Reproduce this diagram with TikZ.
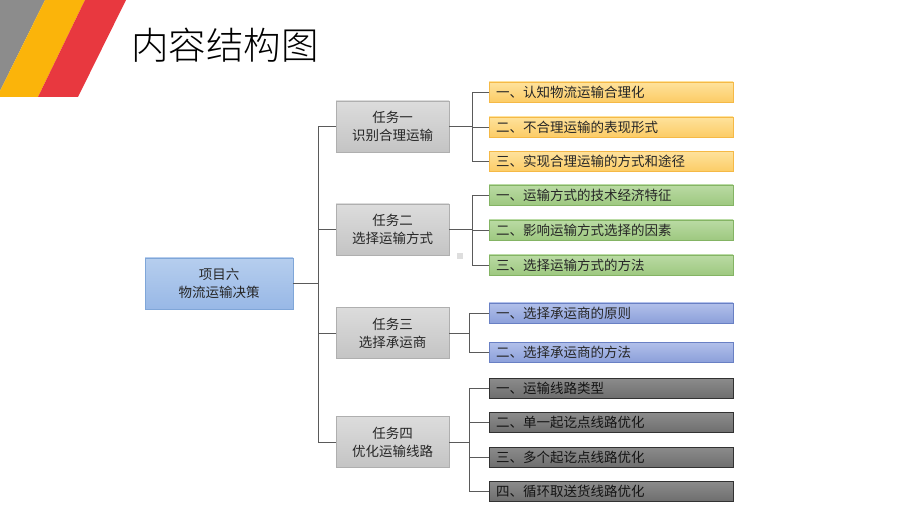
\documentclass[tikz,border=0pt]{standalone}
\usepackage{fontspec}
\setmainfont{Noto Sans CJK SC}
\newfontfamily\titlefont{Noto Sans CJK SC Light}
\definecolor{stripgray}{HTML}{8C8C8C}
\definecolor{stripyel}{HTML}{FBB40A}
\definecolor{stripred}{HTML}{E8383F}
\definecolor{linec}{HTML}{5A5A5A}
\definecolor{txt}{HTML}{262626}
\definecolor{rootdraw}{HTML}{7FA6D8}
\definecolor{roottop}{HTML}{B6CEEE}
\definecolor{rootbot}{HTML}{98B8E6}
\definecolor{taskdraw}{HTML}{AFAFAF}
\definecolor{tasktop}{HTML}{DCDCDC}
\definecolor{taskbot}{HTML}{C4C4C4}
\definecolor{ydraw}{HTML}{F5B946}
\definecolor{ytop}{HTML}{FEE29C}
\definecolor{ybot}{HTML}{FCCC66}
\definecolor{gdraw}{HTML}{84B464}
\definecolor{gtop}{HTML}{BADBA4}
\definecolor{gbot}{HTML}{9EC880}
\definecolor{bdraw}{HTML}{6980C4}
\definecolor{btop}{HTML}{B2C0EA}
\definecolor{bbot}{HTML}{8CA0DA}
\definecolor{ddraw}{HTML}{323232}
\definecolor{dtop}{HTML}{8C8C8C}
\definecolor{dbot}{HTML}{6E6E6E}
\definecolor{dtxt}{HTML}{141414}
\definecolor{stray}{HTML}{DEDEDE}
\begin{document}
\begin{tikzpicture}[x=1pt,y=-1pt,
  conn/.style={draw=linec,line width=0.9pt},
  rootbox/.style={draw=rootdraw,line width=0.8pt,top color=roottop,bottom color=rootbot,minimum width=148pt,minimum height=51pt,inner sep=0pt,align=center,font=\fontsize{13.5}{18}\selectfont,text=txt},
  taskbox/.style={draw=taskdraw,line width=0.8pt,top color=tasktop,bottom color=taskbot,minimum width=113pt,minimum height=51pt,inner sep=0pt,align=center,font=\fontsize{13.5}{18}\selectfont,text=txt},
  leafbox/.style={line width=0.8pt,minimum width=244pt,minimum height=20pt,text width=230pt,inner xsep=7pt,inner ysep=0pt,align=left,font=\fontsize{13.5}{16}\selectfont,text=txt},
  yleaf/.style={leafbox,draw=ydraw,top color=ytop,bottom color=ybot},
  gleaf/.style={leafbox,draw=gdraw,top color=gtop,bottom color=gbot},
  bleaf/.style={leafbox,draw=bdraw,top color=btop,bottom color=bbot},
  dleaf/.style={leafbox,draw=ddraw,top color=dtop,bottom color=dbot,text=dtxt}
]
\useasboundingbox (0,0) rectangle (920,518);
\fill[white] (0,0) rectangle (920,518);
% stripes
\begin{scope}
\clip (0,0) rectangle (200,97);
\fill[stripgray] (-60,0) -- (45,0) -- (-3,97) -- (-108,97) -- cycle;
\fill[stripyel] (45,0) -- (85,0) -- (38,97) -- (-3,97) -- cycle;
\fill[stripred] (85,0) -- (126,0) -- (78,97) -- (38,97) -- cycle;
\end{scope}
\node[anchor=west,font=\titlefont\fontsize{37.5}{40}\selectfont,text=black,inner sep=0pt] (title) at (131,45) {内容结构图};
% root
\node[rootbox] (root) at (219,283.5) {项目六\\物流运输决策};
% tasks
\node[taskbox] (t1) at (392.5,126.5) {任务一\\识别合理运输};
\node[taskbox] (t2) at (392.5,229.5) {任务二\\选择运输方式};
\node[taskbox] (t3) at (392.5,333) {任务三\\选择承运商};
\node[taskbox] (t4) at (392.5,442) {任务四\\优化运输线路};
% leaves
\node[yleaf] (l11) at (611,92) {一、认知物流运输合理化};
\node[yleaf] (l12) at (611,127) {二、不合理运输的表现形式};
\node[yleaf] (l13) at (611,161.5) {三、实现合理运输的方式和途径};
\node[gleaf] (l21) at (611,195) {一、运输方式的技术经济特征};
\node[gleaf] (l22) at (611,230) {二、影响运输方式选择的因素};
\node[gleaf] (l23) at (611,265) {三、选择运输方式的方法};
\node[bleaf] (l31) at (611,313) {一、选择承运商的原则};
\node[bleaf] (l32) at (611,352) {二、选择承运商的方法};
\node[dleaf] (l41) at (611,388) {一、运输线路类型};
\node[dleaf] (l42) at (611,422.5) {二、单一起讫点线路优化};
\node[dleaf] (l43) at (611,457) {三、多个起讫点线路优化};
\node[dleaf] (l44) at (611,491) {四、循环取送货线路优化};
% junctions
\coordinate (rj) at (318,283.5);
\coordinate (j1) at (472,126.5);
\coordinate (j2) at (472,229.5);
\coordinate (j3) at (469,333);
\coordinate (j4) at (469,442);
% connectors
\draw[conn] (root.east) -- (rj);
\draw[conn] (rj) |- (t1.west);
\draw[conn] (rj) |- (t2.west);
\draw[conn] (rj) |- (t3.west);
\draw[conn] (rj) |- (t4.west);
\draw[conn] (t1.east) -- (j1);
\draw[conn] (j1) |- (l11.west);
\draw[conn] (j1) |- (l12.west);
\draw[conn] (j1) |- (l13.west);
\draw[conn] (t2.east) -- (j2);
\draw[conn] (j2) |- (l21.west);
\draw[conn] (j2) |- (l22.west);
\draw[conn] (j2) |- (l23.west);
\draw[conn] (t3.east) -- (j3);
\draw[conn] (j3) |- (l31.west);
\draw[conn] (j3) |- (l32.west);
\draw[conn] (t4.east) -- (j4);
\draw[conn] (j4) |- (l41.west);
\draw[conn] (j4) |- (l42.west);
\draw[conn] (j4) |- (l43.west);
\draw[conn] (j4) |- (l44.west);
% stray mark
\fill[stray] (457,253) rectangle (463,259);
\end{tikzpicture}
\end{document}
